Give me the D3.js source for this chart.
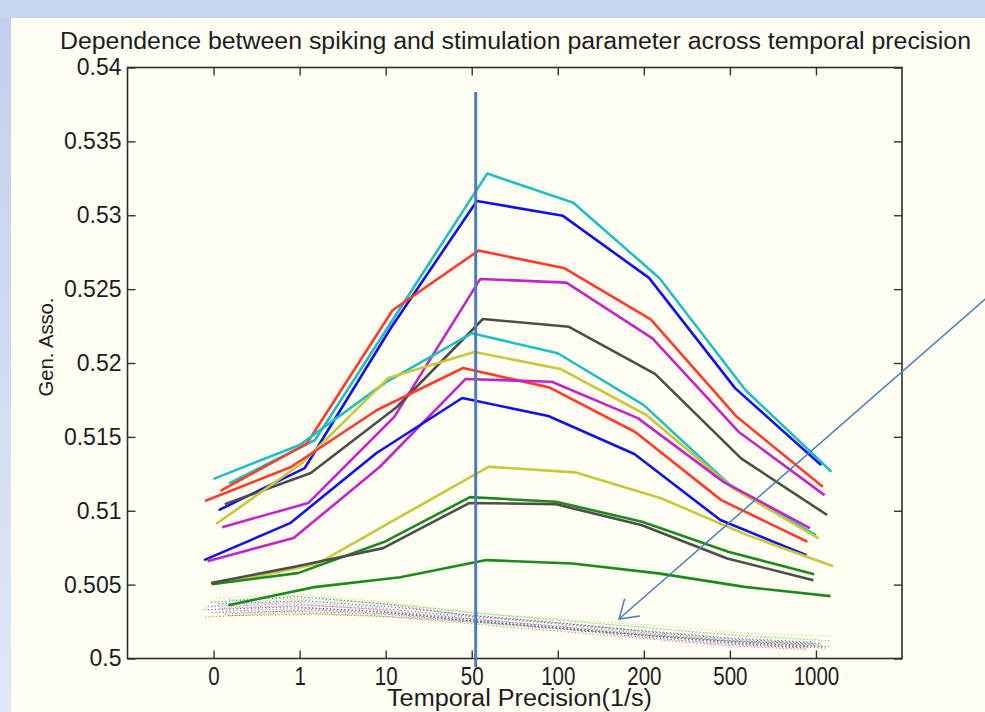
<!DOCTYPE html>
<html>
<head>
<meta charset="utf-8">
<script src="https://cdn.jsdelivr.net/npm/d3@7"></script>
<style>
  body { margin: 0; background: #c7d5ef; }
  svg { display: block; }
</style>
</head>
<body>
<script>
// tick labels
const xTicks = ['0', '1', '10', '50', '100', '200', '500', '1000'];
const yTicks = [0.5, 0.505, 0.51, 0.515, 0.52, 0.525, 0.53, 0.535, 0.54];

// solid lines, one value per temporal precision
const cyanA    = [0.51185, 0.51479, 0.52381, 0.53282, 0.53085, 0.52575, 0.51817, 0.51264];
const blueA    = [0.51004, 0.51289, 0.52237, 0.53097, 0.52996, 0.52576, 0.51830, 0.51309];
const redA     = [0.51134, 0.51452, 0.52357, 0.52761, 0.52641, 0.52296, 0.51636, 0.51162];
const magentaA = [0.50889, 0.51052, 0.51635, 0.52569, 0.52544, 0.52167, 0.51535, 0.51106];
const grayA    = [0.51045, 0.51255, 0.51702, 0.52298, 0.52245, 0.51926, 0.51354, 0.50971];
const cyanB    = [0.51216, 0.51445, 0.51869, 0.52201, 0.52066, 0.51715, 0.51174, 0.50835];
const yellowA  = [0.50910, 0.51323, 0.51898, 0.52075, 0.51960, 0.51648, 0.51154, 0.50813];
const redB     = [0.51066, 0.51296, 0.51682, 0.51966, 0.51835, 0.51533, 0.51072, 0.50790];
const magentaB = [0.50659, 0.50815, 0.51296, 0.51892, 0.51873, 0.51627, 0.51194, 0.50882];
const blueB    = [0.50666, 0.50916, 0.51389, 0.51763, 0.51641, 0.51384, 0.50937, 0.50699];
const yellowB  = [0.50519, 0.50639, 0.50970, 0.51298, 0.51260, 0.51085, 0.50835, 0.50625];
const greenA   = [0.50503, 0.50578, 0.50788, 0.51092, 0.51061, 0.50925, 0.50722, 0.50571];
const grayB    = [0.50510, 0.50625, 0.50747, 0.51052, 0.51045, 0.50903, 0.50677, 0.50530];
const greenB   = [0.50361, 0.50483, 0.50550, 0.50666, 0.50643, 0.50576, 0.50485, 0.50422];

// dotted (shuffled) lines near the bottom
const dotA = [0.5040, 0.5041, 0.5036, 0.5030, 0.5025, 0.5020, 0.5015, 0.5012];
const dotB = [0.5037, 0.5039, 0.5035, 0.5029, 0.5024, 0.5018, 0.5013, 0.5010];
const dotC = [0.5034, 0.5036, 0.5033, 0.5028, 0.5023, 0.5017, 0.5012, 0.5009];
const dotD = [0.5032, 0.5034, 0.5031, 0.5026, 0.5021, 0.5016, 0.5011, 0.5008];
const dotE = [0.5030, 0.5033, 0.5030, 0.5025, 0.5020, 0.5015, 0.5010, 0.5007];
const dotF = [0.5036, 0.5038, 0.5034, 0.5027, 0.5022, 0.5017, 0.5012, 0.5009];
const dotG = [0.5041, 0.5043, 0.5038, 0.5031, 0.5026, 0.5021, 0.5016, 0.5013];
const dotH = [0.5028, 0.5031, 0.5029, 0.5024, 0.5019, 0.5014, 0.5009, 0.5006];
const dotI = [0.5035, 0.5037, 0.5033, 0.5027, 0.5022, 0.5016, 0.5011, 0.5008];
const dotJ = [0.5033, 0.5035, 0.5032, 0.5026, 0.5021, 0.5015, 0.5010, 0.5007];
const dotK = [0.5039, 0.5040, 0.5036, 0.5030, 0.5026, 0.5022, 0.5017, 0.5015];
const dotL = [0.5031, 0.5032, 0.5030, 0.5025, 0.5020, 0.5016, 0.5012, 0.5010];
const dotM = [0.5038, 0.5042, 0.5037, 0.5029, 0.5024, 0.5019, 0.5014, 0.5011];
const dotN = [0.5029, 0.5030, 0.5028, 0.5024, 0.5020, 0.5015, 0.5011, 0.5008];

const solidSeries = [cyanA, blueA, redA, magentaA, grayA, cyanB, yellowA,
                     redB, magentaB, blueB, yellowB, greenA, grayB, greenB];
const dottedSeries = [dotA, dotB, dotC, dotD, dotE, dotF, dotG,
                      dotH, dotI, dotJ, dotK, dotL, dotM, dotN];
// small sideways jitter of each curve, in category units
const seriesShift = [0.18, 0.06, 0.08, 0.10, 0.13, 0.0, 0.03,
                     -0.10, -0.07, -0.11, 0.20, -0.02, -0.03, 0.17];

const cCyan = '#1fbfc2', cBlue = '#1010f0', cRed = '#ff3b2b', cMag = '#c424c8',
      cGray = '#4d4d4d', cYel = '#c9c83a', cGreen = '#1d8a1d';
const seriesColor = [cCyan, cBlue, cRed, cMag, cGray, cCyan, cYel,
                     cRed, cMag, cBlue, cYel, cGreen, cGray, cGreen];

const W = 985, H = 712;
const svg = d3.select('body').append('svg')
    .attr('width', W)
    .attr('height', H);

// slide background
const grad = svg.append('defs').append('linearGradient')
    .attr('id', 'side').attr('x1', 0).attr('y1', 0).attr('x2', 0).attr('y2', 1);
grad.append('stop').attr('offset', '0%').attr('stop-color', '#c2d0ed');
grad.append('stop').attr('offset', '100%').attr('stop-color', '#e1e7f4');
svg.append('rect').attr('width', W).attr('height', H).attr('fill', 'url(#side)');
svg.append('rect').attr('width', W).attr('height', 18).attr('fill', '#c7d5ef');
svg.append('rect')
    .attr('x', 11).attr('y', 18)
    .attr('width', W - 11).attr('height', H - 18)
    .attr('fill', '#fefef2');

// scales
const pLeft = 127.5, pRight = 902, pTop = 67.5, pBottom = 658.5;
const xScale = d3.scaleLinear().domain([-1, 8]).range([pLeft, pRight]);
const yScale = d3.scaleLinear().domain([0.5, 0.54]).range([pBottom, pTop]);

const ink = '#1c1c24';
const font = "'Liberation Sans', Arial, Helvetica, sans-serif";

// y axis (left, with labels)
const yAxis = svg.append('g')
    .attr('transform', `translate(${pLeft},0)`)
    .call(d3.axisLeft(yScale)
        .tickValues(yTicks)
        .tickSize(-8)
        .tickSizeOuter(0)
        .tickPadding(6)
        .tickFormat(d => String(+d.toFixed(3))));
yAxis.select('.domain').remove();
yAxis.selectAll('line').attr('stroke', '#333').attr('stroke-width', 1.4);
yAxis.selectAll('text')
    .attr('font-family', font)
    .attr('font-size', 23)
    .attr('fill', ink);

// right ticks
const yAxisR = svg.append('g')
    .attr('transform', `translate(${pRight},0)`)
    .call(d3.axisRight(yScale).tickValues(yTicks).tickSize(-8).tickSizeOuter(0).tickFormat(''));
yAxisR.select('.domain').remove();
yAxisR.selectAll('line').attr('stroke', '#333').attr('stroke-width', 1.4);

// x axis (bottom, with labels)
const xAxis = svg.append('g')
    .attr('transform', `translate(0,${pBottom})`)
    .call(d3.axisBottom(xScale)
        .tickValues(d3.range(xTicks.length))
        .tickSize(-8)
        .tickSizeOuter(0)
        .tickFormat(i => xTicks[i]));
xAxis.select('.domain').remove();
xAxis.selectAll('line').attr('stroke', '#333').attr('stroke-width', 1.4);
xAxis.selectAll('text')
    .attr('y', null)
    .attr('dy', null)
    .attr('transform', 'translate(0,26) scale(0.82,1)')
    .attr('font-family', font)
    .attr('font-size', 25)
    .attr('fill', ink);

// top ticks
const xAxisT = svg.append('g')
    .attr('transform', `translate(0,${pTop})`)
    .call(d3.axisTop(xScale).tickValues(d3.range(xTicks.length)).tickSize(-8).tickSizeOuter(0).tickFormat(''));
xAxisT.select('.domain').remove();
xAxisT.selectAll('line').attr('stroke', '#333').attr('stroke-width', 1.4);

// frame
svg.append('rect')
    .attr('x', pLeft).attr('y', pTop)
    .attr('width', pRight - pLeft).attr('height', pBottom - pTop)
    .attr('fill', 'none')
    .attr('stroke', '#2e2e2e')
    .attr('stroke-width', 1.6);

// dotted lines
dottedSeries.forEach((vals, k) => {
    const line = d3.line()
        .x((v, i) => xScale(i + seriesShift[k]))
        .y(v => yScale(v));
    svg.append('path')
        .attr('d', line(vals))
        .attr('fill', 'none')
        .attr('stroke', seriesColor[k])
        .attr('stroke-width', 1.1)
        .attr('stroke-opacity', 0.75)
        .attr('stroke-dasharray', '1.2,2.4');
});

// solid lines
solidSeries.forEach((vals, k) => {
    const line = d3.line()
        .x((v, i) => xScale(i + seriesShift[k]))
        .y(v => yScale(v));
    svg.append('path')
        .attr('d', line(vals))
        .attr('fill', 'none')
        .attr('stroke', seriesColor[k])
        .attr('stroke-width', 2.6)
        .attr('stroke-linejoin', 'round');
});

// title and axis labels
svg.append('text')
    .attr('x', 515.5).attr('y', 49)
    .attr('text-anchor', 'middle')
    .attr('font-family', font)
    .attr('font-size', 23)
    .attr('textLength', 911)
    .attr('lengthAdjust', 'spacingAndGlyphs')
    .attr('fill', ink)
    .text('Dependence between spiking and stimulation parameter across temporal precision');

svg.append('text')
    .attr('x', 519.5).attr('y', 706)
    .attr('text-anchor', 'middle')
    .attr('font-family', font)
    .attr('font-size', 23)
    .attr('textLength', 265)
    .attr('lengthAdjust', 'spacingAndGlyphs')
    .attr('fill', ink)
    .text('Temporal Precision(1/s)');

svg.append('text')
    .attr('transform', 'translate(53,347) rotate(-90)')
    .attr('text-anchor', 'middle')
    .attr('font-family', font)
    .attr('font-size', 21)
    .attr('textLength', 99)
    .attr('lengthAdjust', 'spacingAndGlyphs')
    .attr('fill', ink)
    .text('Gen. Asso.');

// slide annotations: marker line at 50 and arrow to the dotted band
const noteBlue = '#4a7ebb';
svg.append('line')
    .attr('x1', 475.7).attr('x2', 475.7)
    .attr('y1', 92).attr('y2', 667)
    .attr('stroke', noteBlue)
    .attr('stroke-width', 3);

const tip = [619, 619], tail = [990, 295];
svg.append('line')
    .attr('x1', tail[0]).attr('y1', tail[1])
    .attr('x2', tip[0]).attr('y2', tip[1])
    .attr('stroke', noteBlue)
    .attr('stroke-width', 1.5);
const ang = Math.atan2(tail[1] - tip[1], tail[0] - tip[0]);
const headLen = 21, spread = 0.58;
const head = [
    [tip[0] + headLen * Math.cos(ang - spread), tip[1] + headLen * Math.sin(ang - spread)],
    tip,
    [tip[0] + headLen * Math.cos(ang + spread), tip[1] + headLen * Math.sin(ang + spread)]
];
svg.append('path')
    .attr('d', d3.line()(head))
    .attr('fill', 'none')
    .attr('stroke', noteBlue)
    .attr('stroke-width', 1.5);
</script>
</body>
</html>
